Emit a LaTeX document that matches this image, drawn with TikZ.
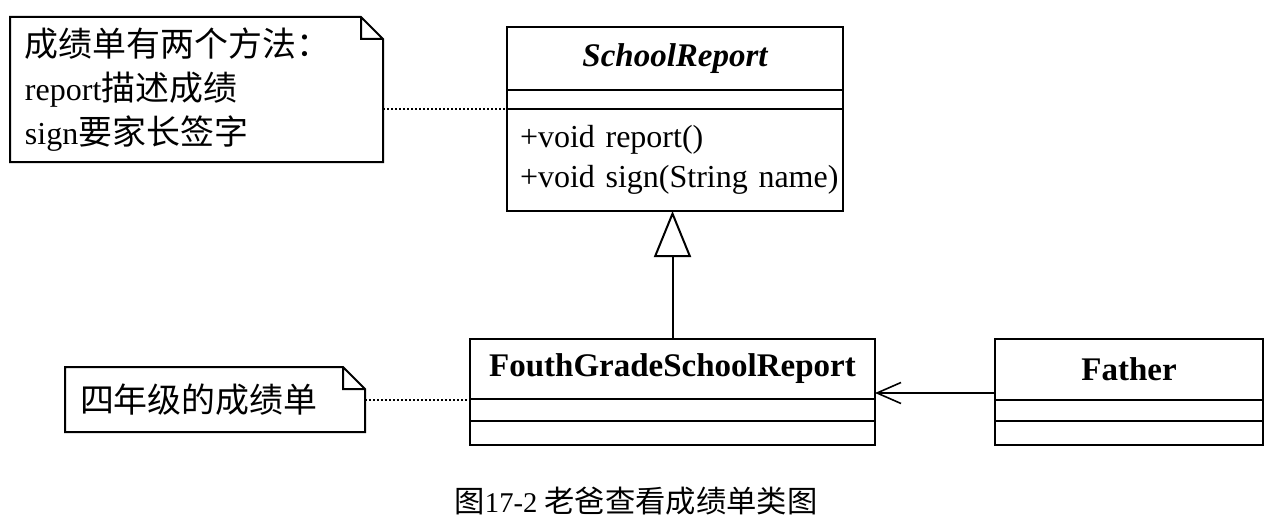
\documentclass[tikz,border=0pt]{standalone}
\usepackage{fontspec}
\setmainfont{Liberation Serif}
\newfontfamily\cjkfont[Scale=1.06]{Noto Sans CJK SC}
\usetikzlibrary{positioning,arrows.meta}

\begin{document}
\begin{tikzpicture}[x=0.5pt, y=-0.5pt,
    every node/.style={font=\fontsize{16}{22}\selectfont},
    classname/.style={draw, line width=1.3pt, inner sep=0pt, outer sep=0pt, font=\fontsize{16.5}{20}\selectfont\bfseries},
    classpart/.style={draw, line width=1.3pt, inner sep=0pt, outer sep=0pt, minimum height=#1},
    note/.style={inner xsep=7.5pt, inner ysep=0pt, outer sep=0pt, align=left},
    fold/.style={line width=1pt},
    noteline/.style={densely dotted, line width=1pt},
    inherit/.style={-{Triangle[open, length=23pt, width=18.5pt]}, line width=1pt},
    assoc/.style={-{Straight Barb[length=12pt, width=10.5pt]}, line width=0.8pt}
]
    \useasboundingbox (0,0) rectangle (1278,524);

    % Abstract class
    \node[classname, minimum width=168pt, minimum height=31.5pt, font=\fontsize{16.5}{20}\selectfont\bfseries\itshape] (srName) at (675,58.5) {SchoolReport};
    \node[classpart=9.5pt, minimum width=168pt, below=0pt of srName] (srAttr) {};
    \node[classpart=51pt, below=0pt of srAttr, inner xsep=2pt, text width=164pt, align=left, font=\fontsize{16}{20}\selectfont] (srMethods)
        {\hspace*{4.5pt}\mbox{+void report()}\\\hspace*{4.5pt}\mbox{+void sign(String name)}};

    % Subclass
    \node[classname, minimum width=202.5pt, minimum height=30pt] (fgName) at (672.5,369) {FouthGradeSchoolReport};
    \node[classpart=11pt, minimum width=202.5pt, below=0pt of fgName] (fgAttr) {};
    \node[classpart=12pt, minimum width=202.5pt, below=0pt of fgAttr] (fgMethods) {};

    % Client
    \node[classname, minimum width=134pt, minimum height=30.5pt] (faName) at (1129,369.5) {Father};
    \node[classpart=10.5pt, minimum width=134pt, below=0pt of faName] (faAttr) {};
    \node[classpart=12pt, minimum width=134pt, below=0pt of faAttr] (faMethods) {};

    % Notes
    \node[note, minimum width=186.5pt, minimum height=72.5pt, text width=171.5pt] (noteA) at (196.5,89.5)
        {{\cjkfont 成绩单有两个方法：}\\report{\cjkfont 描述成绩}\\sign{\cjkfont 要家长签字}};
    \node[note, minimum width=150pt, minimum height=32.5pt, text width=135pt] (noteB) at (215,399.5)
        {{\cjkfont 四年级的成绩单}};
    \foreach \n in {noteA, noteB}
        \draw[fold] (\n.north west) -- ([xshift=-11pt]\n.north east) -- ([yshift=-11pt]\n.north east)
            -- (\n.south east) -- (\n.south west) -- cycle
            ([xshift=-11pt]\n.north east) |- ([yshift=-11pt]\n.north east);

    % Connectors
    \draw[noteline] (noteA.east |- srAttr.south) -- (srAttr.south west);
    \draw[noteline] (noteB.east) -- (noteB.east -| fgAttr.west);
    \draw[inherit] (fgName.north) -- (fgName.north |- srMethods.south);
    \draw[assoc] ([yshift=3.5pt]faName.south west) -- ([yshift=3.5pt]faName.south west -| fgName.east);

    % Caption
    \node[font=\fontsize{14.3}{17}\selectfont] (caption) at (636,501) {{\cjkfont 图}17-2 {\cjkfont 老爸查看成绩单类图}};
\end{tikzpicture}
\end{document}
